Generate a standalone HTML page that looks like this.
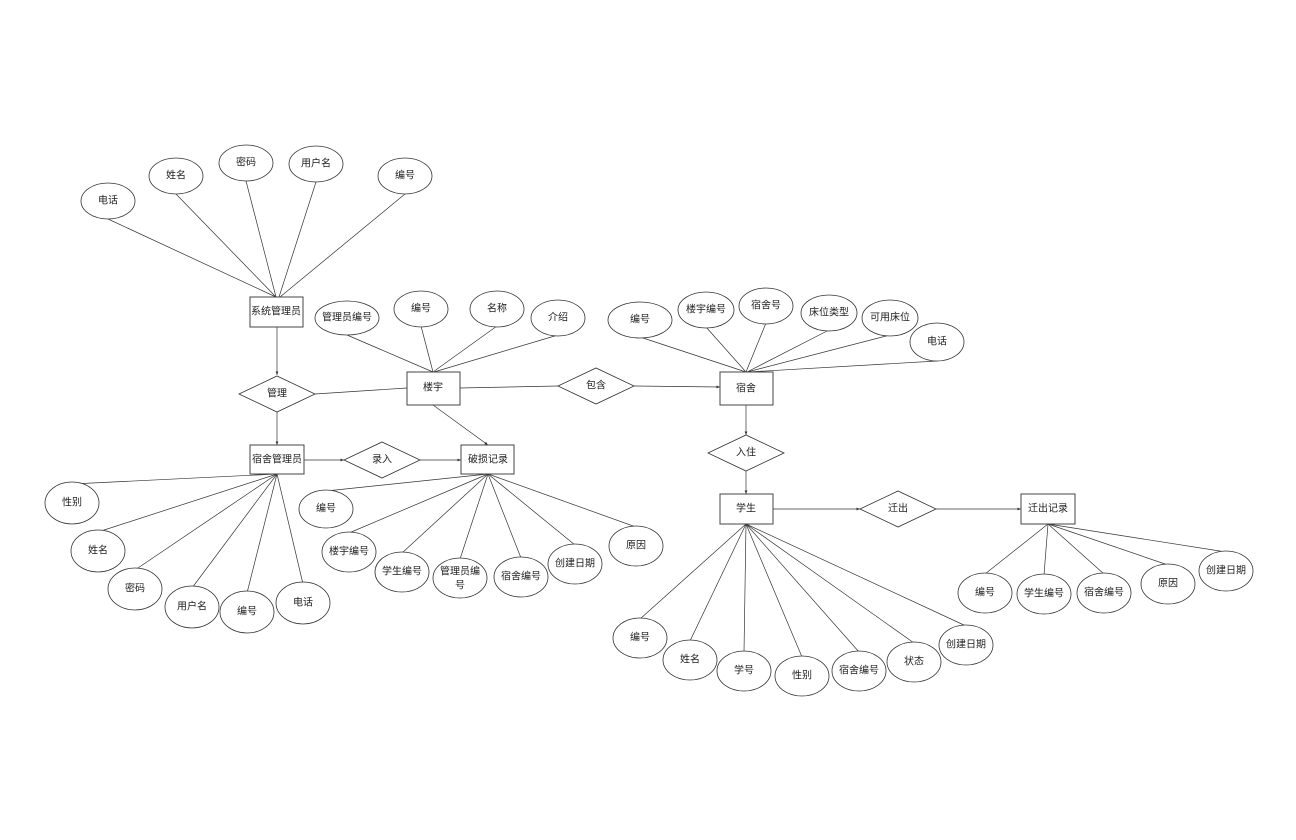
<!DOCTYPE html>
<html><head><meta charset="utf-8"><style>
html,body{margin:0;padding:0;background:#fff;}
svg{display:block;}
text{font-family:"Liberation Sans","Noto Sans CJK SC",sans-serif;font-size:10px;fill:#222;text-anchor:middle;dominant-baseline:central;}
ellipse{fill:#fff;stroke:#333;stroke-width:0.8;}
rect{fill:#fff;stroke:#444;stroke-width:1;}
polygon.d{fill:#fff;stroke:#333;stroke-width:0.8;}
line{stroke:#333;stroke-width:0.7;}
</style></head><body>
<svg width="1296" height="840" viewBox="0 0 1296 840" xmlns="http://www.w3.org/2000/svg">
<defs><marker id="a" markerWidth="6" markerHeight="6" refX="5" refY="3" orient="auto"><path d="M0,1 L5,3 L0,5 z" fill="#333"/></marker></defs>
<!-- attribute lines -->
<g>
<line x1="108" y1="219" x2="276" y2="297"/><line x1="176" y1="194" x2="276" y2="297"/><line x1="246" y1="181" x2="276" y2="297"/><line x1="316" y1="182" x2="279" y2="297"/><line x1="405" y1="194" x2="280" y2="297"/>
<line x1="347" y1="335" x2="433" y2="372"/><line x1="421" y1="326" x2="433" y2="372"/><line x1="497" y1="326" x2="433" y2="372"/><line x1="558" y1="335" x2="434" y2="372"/>
<line x1="640" y1="337" x2="746" y2="372"/><line x1="706" y1="327" x2="746" y2="372"/><line x1="766" y1="323" x2="746" y2="372"/><line x1="829" y1="330" x2="747" y2="372"/><line x1="890" y1="335" x2="747" y2="372"/><line x1="937" y1="361" x2="748" y2="372"/>
<line x1="72" y1="484" x2="277" y2="474"/><line x1="98" y1="532" x2="277" y2="474"/><line x1="135" y1="570" x2="277" y2="474"/><line x1="192" y1="588" x2="277" y2="474"/><line x1="247" y1="593" x2="277" y2="474"/><line x1="303" y1="584" x2="277" y2="474"/>
<line x1="326" y1="491" x2="488" y2="474"/><line x1="349" y1="533" x2="488" y2="474"/><line x1="402" y1="553" x2="488" y2="474"/><line x1="460" y1="559" x2="488" y2="474"/><line x1="521" y1="558" x2="488" y2="474"/><line x1="575" y1="545" x2="488" y2="474"/><line x1="636" y1="527" x2="488" y2="474"/>
<line x1="640" y1="619" x2="746" y2="524"/><line x1="690" y1="641" x2="746" y2="524"/><line x1="744" y1="652" x2="746" y2="524"/><line x1="802" y1="657" x2="746" y2="524"/><line x1="859" y1="652" x2="746" y2="524"/><line x1="914" y1="643" x2="746" y2="524"/><line x1="966" y1="626" x2="746" y2="524"/>
<line x1="985" y1="574" x2="1048" y2="524"/><line x1="1044" y1="575" x2="1048" y2="524"/><line x1="1104" y1="574" x2="1048" y2="524"/><line x1="1168" y1="565" x2="1048" y2="524"/><line x1="1226" y1="552" x2="1048" y2="524"/>
</g>
<!-- relationship lines -->
<g>
<line x1="277" y1="327" x2="277" y2="375" marker-end="url(#a)"/>
<line x1="277" y1="412" x2="277" y2="445" marker-end="url(#a)"/>
<line x1="315" y1="394" x2="407" y2="388"/>
<line x1="460" y1="388" x2="558" y2="386"/>
<line x1="634" y1="386" x2="720" y2="387" marker-end="url(#a)"/>
<line x1="433" y1="405" x2="488" y2="445" marker-end="url(#a)"/>
<line x1="304" y1="460" x2="344" y2="460" marker-end="url(#a)"/>
<line x1="420" y1="460" x2="461" y2="460" marker-end="url(#a)"/>
<line x1="746" y1="405" x2="746" y2="435" marker-end="url(#a)"/>
<line x1="746" y1="471" x2="746" y2="494" marker-end="url(#a)"/>
<line x1="773" y1="509" x2="860" y2="509" marker-end="url(#a)"/>
<line x1="936" y1="509" x2="1021" y2="509" marker-end="url(#a)"/>
</g>
<!-- entities -->
<rect x="250" y="297" width="53" height="30"/><text x="276" y="312">系统管理员</text>
<rect x="407" y="372" width="53" height="33"/><text x="433" y="388">楼宇</text>
<rect x="250" y="445" width="54" height="29"/><text x="277" y="460">宿舍管理员</text>
<rect x="461" y="445" width="53" height="29"/><text x="488" y="460">破损记录</text>
<rect x="720" y="372" width="53" height="33"/><text x="746" y="389">宿舍</text>
<rect x="720" y="494" width="53" height="30"/><text x="746" y="509">学生</text>
<rect x="1021" y="494" width="54" height="30"/><text x="1048" y="509">迁出记录</text>
<!-- relationships -->
<polygon class="d" points="239,394 277,376 315,394 277,412"/><text x="277" y="394">管理</text>
<polygon class="d" points="558,386 596,368 634,386 596,404"/><text x="596" y="386">包含</text>
<polygon class="d" points="344,460 382,442 420,460 382,478"/><text x="382" y="460">录入</text>
<polygon class="d" points="708,453 746,435 784,453 746,471"/><text x="746" y="453">入住</text>
<polygon class="d" points="860,509 898,491 936,509 898,527"/><text x="898" y="509">迁出</text>
<!-- attributes -->
<ellipse cx="108" cy="201" rx="27" ry="18"/><text x="108" y="201">电话</text>
<ellipse cx="176" cy="176" rx="27" ry="18"/><text x="176" y="176">姓名</text>
<ellipse cx="246" cy="163" rx="27" ry="18"/><text x="246" y="163">密码</text>
<ellipse cx="316" cy="164" rx="27" ry="18"/><text x="316" y="164">用户名</text>
<ellipse cx="405" cy="176" rx="27" ry="18"/><text x="405" y="176">编号</text>
<ellipse cx="347" cy="318" rx="32" ry="17"/><text x="347" y="318">管理员编号</text>
<ellipse cx="421" cy="309" rx="27" ry="18"/><text x="421" y="309">编号</text>
<ellipse cx="497" cy="309" rx="27" ry="18"/><text x="497" y="309">名称</text>
<ellipse cx="558" cy="318" rx="27" ry="18"/><text x="558" y="318">介绍</text>
<ellipse cx="640" cy="320" rx="32" ry="18"/><text x="640" y="320">编号</text>
<ellipse cx="706" cy="310" rx="28" ry="18"/><text x="706" y="310">楼宇编号</text>
<ellipse cx="766" cy="306" rx="27" ry="18"/><text x="766" y="306">宿舍号</text>
<ellipse cx="829" cy="313" rx="28" ry="18"/><text x="829" y="313">床位类型</text>
<ellipse cx="890" cy="318" rx="28" ry="18"/><text x="890" y="318">可用床位</text>
<ellipse cx="937" cy="342" rx="27" ry="19"/><text x="937" y="342">电话</text>
<ellipse cx="72" cy="503" rx="27" ry="21"/><text x="72" y="503">性别</text>
<ellipse cx="98" cy="551" rx="27" ry="21"/><text x="98" y="551">姓名</text>
<ellipse cx="135" cy="589" rx="27" ry="21"/><text x="135" y="589">密码</text>
<ellipse cx="192" cy="607" rx="27" ry="21"/><text x="192" y="607">用户名</text>
<ellipse cx="247" cy="612" rx="27" ry="21"/><text x="247" y="612">编号</text>
<ellipse cx="303" cy="603" rx="27" ry="21"/><text x="303" y="603">电话</text>
<ellipse cx="326" cy="509" rx="27" ry="19"/><text x="326" y="509">编号</text>
<ellipse cx="349" cy="552" rx="27" ry="20"/><text x="349" y="552">楼宇编号</text>
<ellipse cx="402" cy="572" rx="27" ry="20"/><text x="402" y="572">学生编号</text>
<ellipse cx="460" cy="578" rx="27" ry="20"/><text x="460" y="572">管理员编</text><text x="460" y="586">号</text>
<ellipse cx="521" cy="577" rx="27" ry="20"/><text x="521" y="577">宿舍编号</text>
<ellipse cx="575" cy="564" rx="27" ry="20"/><text x="575" y="564">创建日期</text>
<ellipse cx="636" cy="546" rx="27" ry="20"/><text x="636" y="546">原因</text>
<ellipse cx="640" cy="638" rx="27" ry="20"/><text x="640" y="638">编号</text>
<ellipse cx="690" cy="660" rx="27" ry="20"/><text x="690" y="660">姓名</text>
<ellipse cx="744" cy="671" rx="27" ry="20"/><text x="744" y="671">学号</text>
<ellipse cx="802" cy="676" rx="27" ry="20"/><text x="802" y="676">性别</text>
<ellipse cx="859" cy="671" rx="27" ry="20"/><text x="859" y="671">宿舍编号</text>
<ellipse cx="914" cy="662" rx="27" ry="20"/><text x="914" y="662">状态</text>
<ellipse cx="966" cy="645" rx="27" ry="20"/><text x="966" y="645">创建日期</text>
<ellipse cx="985" cy="593" rx="27" ry="20"/><text x="985" y="593">编号</text>
<ellipse cx="1044" cy="594" rx="27" ry="20"/><text x="1044" y="594">学生编号</text>
<ellipse cx="1104" cy="593" rx="27" ry="20"/><text x="1104" y="593">宿舍编号</text>
<ellipse cx="1168" cy="584" rx="27" ry="20"/><text x="1168" y="584">原因</text>
<ellipse cx="1226" cy="571" rx="27" ry="20"/><text x="1226" y="571">创建日期</text>
</svg>
</body></html>
